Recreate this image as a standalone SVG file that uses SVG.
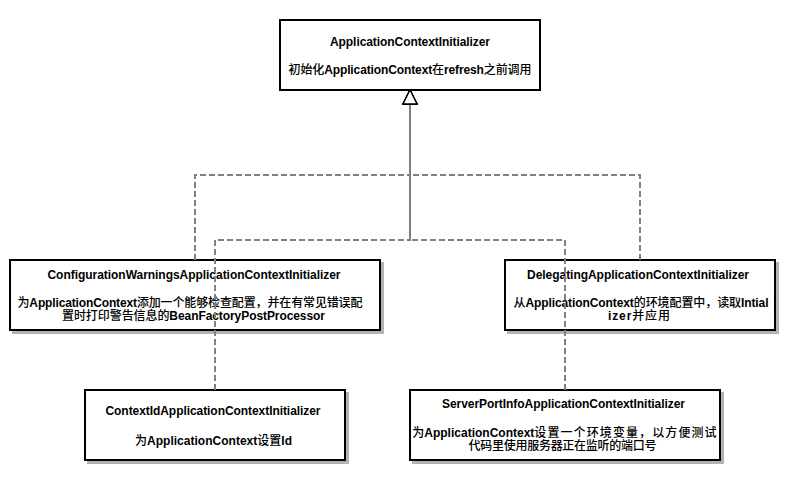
<svg xmlns="http://www.w3.org/2000/svg" width="795" height="480" viewBox="0 0 795 480">
<style>
.box{fill:#ffffff;stroke:#000000;stroke-width:2}
.shadow{fill:#b3b3b3;stroke:#b3b3b3;stroke-width:2}
.t{font-family:"Liberation Sans",Arial,"Noto Sans CJK SC",sans-serif;font-size:12px;font-weight:bold;fill:#000000;text-anchor:middle}
.c{font-weight:500}
.edge{fill:none;stroke:#808080;stroke-width:2;stroke-dasharray:6 3}
</style>
<defs>
<marker id="tri" markerUnits="userSpaceOnUse" markerWidth="16" markerHeight="16" viewBox="-1 -1 16 16" refX="14" refY="7" orient="auto">
<path d="M0,0 L14,7 L0,14 Z" fill="#ffffff" stroke="#000000" stroke-width="1.3" stroke-dasharray="none"/>
</marker>
</defs>
<rect width="795" height="480" fill="#ffffff"/>
<g id="node-root">
<rect class="box" x="280" y="20" width="260" height="70"/>
<text class="t" x="410" y="46" textLength="160" lengthAdjust="spacing">ApplicationContextInitializer</text>
<text class="t" x="410" y="74" textLength="243" lengthAdjust="spacing"><tspan class="c">初始化</tspan>ApplicationContext<tspan class="c">在</tspan>refresh<tspan class="c">之前调用</tspan></text>
</g>
<g id="node-config">
<rect class="shadow" x="13" y="263" width="370" height="70"/>
<rect class="box" x="10" y="260" width="370" height="70"/>
<text class="t" x="194" y="279" textLength="293" lengthAdjust="spacing">ConfigurationWarningsApplicationContextInitializer</text>
<text class="t" x="190" y="307" textLength="345" lengthAdjust="spacing"><tspan class="c">为</tspan>ApplicationContext<tspan class="c">添加一个能够检查配置，并在有常见错误配</tspan></text>
<text class="t" x="193.5" y="320" textLength="263" lengthAdjust="spacing"><tspan class="c">置时打印警告信息的</tspan>BeanFactoryPostProcessor</text>
</g>
<g id="node-delegating">
<rect class="shadow" x="508" y="263" width="270" height="70"/>
<rect class="box" x="505" y="260" width="270" height="70"/>
<text class="t" x="638" y="279" textLength="222" lengthAdjust="spacing">DelegatingApplicationContextInitializer</text>
<text class="t" x="641" y="307" textLength="255" lengthAdjust="spacing"><tspan class="c">从</tspan>ApplicationContext<tspan class="c">的环境配置中，读取</tspan>Intial</text>
<text class="t" x="639" y="320" textLength="62" lengthAdjust="spacing">izer<tspan class="c">并应用</tspan></text>
</g>
<g id="node-contextid">
<rect class="shadow" x="88" y="393" width="260" height="70"/>
<rect class="box" x="85" y="390" width="260" height="70"/>
<text class="t" x="213" y="415" textLength="215" lengthAdjust="spacing">ContextIdApplicationContextInitializer</text>
<text class="t" x="213.5" y="445" textLength="157" lengthAdjust="spacing"><tspan class="c">为</tspan>ApplicationContext<tspan class="c">设置</tspan>Id</text>
</g>
<g id="node-serverport">
<rect class="shadow" x="413" y="393" width="310" height="70"/>
<rect class="box" x="410" y="390" width="310" height="70"/>
<text class="t" x="563.5" y="408" textLength="243" lengthAdjust="spacing">ServerPortInfoApplicationContextInitializer</text>
<text class="t" x="565" y="436.5"><tspan class="c">为</tspan>ApplicationContext<tspan class="c" letter-spacing="1.1">设置一个环境变量，以方便测试</tspan></text>
<text class="t" x="562.5" y="449.5" textLength="188" lengthAdjust="spacing"><tspan class="c">代码里使用服务器正在监听的端口号</tspan></text>
</g>
<g id="connectors">
<path class="edge" d="M195,260 V175 H410 V90" marker-end="url(#tri)"/>
<path class="edge" d="M640,260 V175 H410 V90" marker-end="url(#tri)"/>
<path class="edge" d="M215,390 V240 H410 V90" marker-end="url(#tri)"/>
<path class="edge" d="M565,390 V240 H410 V90" marker-end="url(#tri)"/>
</g>
</svg>
